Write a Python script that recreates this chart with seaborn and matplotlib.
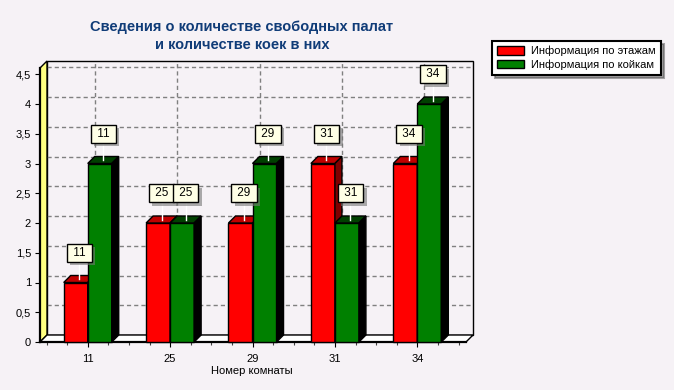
import matplotlib
matplotlib.use('Agg')
from matplotlib import pyplot as plt
from matplotlib.patches import Polygon, Rectangle, Patch
from matplotlib import patheffects as pe
import pandas as pd
import seaborn as sns

rooms = ['11', '25', '29', '31', '34']
floors = [1, 2, 2, 3, 3]
beds = [3, 2, 3, 2, 4]
floor_labels = ['11', '25', '29', '31', '34']
bed_labels = ['11', '25', '29', '31', '34']
series = ['Информация по этажам', 'Информация по койкам']

title1 = 'Сведения о количестве свободных палат'
title2 = 'и количестве коек в них'
xlabel = 'Номер комнаты'

bg = '#F6F2F6'
front_colors = ['#FF0000', '#008000']
top_colors = ['#C00000', '#004000']
side_colors = ['#800000', '#000000']

plt.rcParams['font.family'] = ['Liberation Sans', 'DejaVu Sans']
plt.rcParams['lines.scale_dashes'] = False

df = pd.DataFrame({
    'room': rooms * 2,
    'value': floors + beds,
    'series': [series[0]] * len(rooms) + [series[1]] * len(rooms),
    'label': floor_labels + bed_labels,
})

W, H = 674, 390
fig = plt.figure(figsize=(W / 100, H / 100), dpi=100, facecolor=bg)
ax_l, ax_r, ax_b, ax_t = 40, 466, 342, 68
ax = fig.add_axes([ax_l / W, (H - ax_b) / H, (ax_r - ax_l) / W, (ax_b - ax_t) / H])

sns.barplot(data=df, x='room', y='value', hue='series', palette=front_colors,
            width=0.583, saturation=1, edgecolor='black', linewidth=1,
            legend=False, ax=ax)
bars = list(ax.patches)

xmin, xmax = -0.579, 4.591
ymax = (ax_b - ax_t) / 59.5
ax.set_xlim(xmin, xmax)
ax.set_ylim(0, ymax)
ax.patch.set_alpha(0)
for s in ax.spines.values():
    s.set_visible(False)

# 3d depth in data units (7 px)
depth = 7
dx = depth * (xmax - xmin) / (ax_r - ax_l)
dy = depth * ymax / (ax_b - ax_t)

# back wall
ax.add_patch(Rectangle((xmin + dx, dy), xmax - xmin, ymax, facecolor=bg,
                       edgecolor='black', lw=1, clip_on=False, zorder=0))
# left wall
ax.add_patch(Polygon([(xmin, 0), (xmin, ymax), (xmin + dx, ymax + dy), (xmin + dx, dy)],
                     closed=True, facecolor='#FFFF80', edgecolor='black', lw=1,
                     clip_on=False, zorder=1))
# floor
ax.add_patch(Polygon([(xmin, 0), (xmax, 0), (xmax + dx, dy), (xmin + dx, dy)],
                     closed=True, facecolor='white', edgecolor='black', lw=1,
                     clip_on=False, zorder=1))

# grid on back wall
for y in [0.5 * k for k in range(1, 10)]:
    ax.plot([xmin + dx, xmax + dx], [y + dy, y + dy], color='#808080', lw=1,
            dashes=(3, 2.2), zorder=0.5, clip_on=False)
for x in range(len(rooms)):
    ax.plot([x + dx, x + dx], [dy, ymax + dy], color='#808080', lw=1,
            dashes=(3, 2.2), zorder=0.5, clip_on=False)

# front axis lines
ax.plot([xmin, xmin], [0, ymax], color='black', lw=1.6, zorder=3, clip_on=False)
ax.plot([xmin, xmax], [0, 0], color='black', lw=1.6, zorder=3, clip_on=False)

# 3d bars
n = len(rooms)
for j, bar in enumerate(bars):
    s = j // n
    i = j % n
    x0, w, h = bar.get_x(), bar.get_width(), bar.get_height()
    z = 10 + 4 * i + 2 * s
    bar.set_zorder(z)
    bar.set_clip_on(False)
    ax.add_patch(Polygon([(x0, h), (x0 + w, h), (x0 + w + dx, h + dy), (x0 + dx, h + dy)],
                         closed=True, facecolor=top_colors[s], edgecolor='black', lw=1,
                         zorder=z + 0.5, clip_on=False))
    ax.add_patch(Polygon([(x0 + w, 0), (x0 + w + dx, dy), (x0 + w + dx, h + dy), (x0 + w, h)],
                         closed=True, facecolor=side_colors[s], edgecolor='black', lw=1,
                         zorder=z + 0.5, clip_on=False))
    xc = x0 + w / 2 + dx / 2
    yl = h + 0.5
    ax.plot([xc, xc], [h + dy / 2, yl], color='white', lw=1, zorder=40, clip_on=False)
    lab = df['label'].iloc[j]
    t = ax.text(xc, yl, ' ' + lab + ' ', ha='center', va='center', fontsize=8.5, zorder=50,
                bbox=dict(boxstyle='square,pad=0.25', facecolor='#FFFFE6',
                          edgecolor='black', lw=1))
    t.get_bbox_patch().set_path_effects([
        pe.SimplePatchShadow(offset=(2.5, -2.5), shadow_rgbFace='#777777', alpha=0.6),
        pe.Normal()])

# ticks
yt = [0.5 * k for k in range(10)]
ax.set_yticks(yt)
ax.set_yticklabels([('%g' % v).replace('.', ',') for v in yt], fontsize=8)
ax.set_xticks(range(n))
ax.set_xticklabels(rooms, fontsize=8)
ax.set_xticks([-0.5 + 0.25 * k for k in range(21) if k % 4 != 2], minor=True)
ax.tick_params(axis='both', direction='out', length=3.5, width=0.8, pad=3, colors='black')
ax.tick_params(axis='x', which='major', pad=5)
ax.tick_params(axis='x', which='minor', length=2.5, width=0.8, color='#404040')
ax.tick_params(axis='y', which='minor', left=False)
ax.set_xlabel('')
ax.set_ylabel('')

fig.text(252 / W, 1 - 371 / H, xlabel, ha='center', va='center', fontsize=8)
fig.text(242 / W, 1 - 27 / H, title1, ha='center', va='center', fontsize=10.5,
         fontweight='bold', color='#103C78')
fig.text(242 / W, 1 - 45 / H, title2, ha='center', va='center', fontsize=10.5,
         fontweight='bold', color='#103C78')

handles = [Patch(facecolor=c, edgecolor='black', lw=1) for c in front_colors]
leg = fig.legend(handles, series, loc='upper left', bbox_to_anchor=(492 / W, 1 - 41 / H),
                 borderaxespad=0, fontsize=8, frameon=True, fancybox=False, shadow=True,
                 facecolor='white', edgecolor='black', framealpha=1,
                 handlelength=2.4, handleheight=0.8, handletextpad=0.7,
                 labelspacing=0.25, borderpad=0.45)
leg.get_frame().set_linewidth(1.5)

fig.savefig('out.png', dpi=100, facecolor=bg)
